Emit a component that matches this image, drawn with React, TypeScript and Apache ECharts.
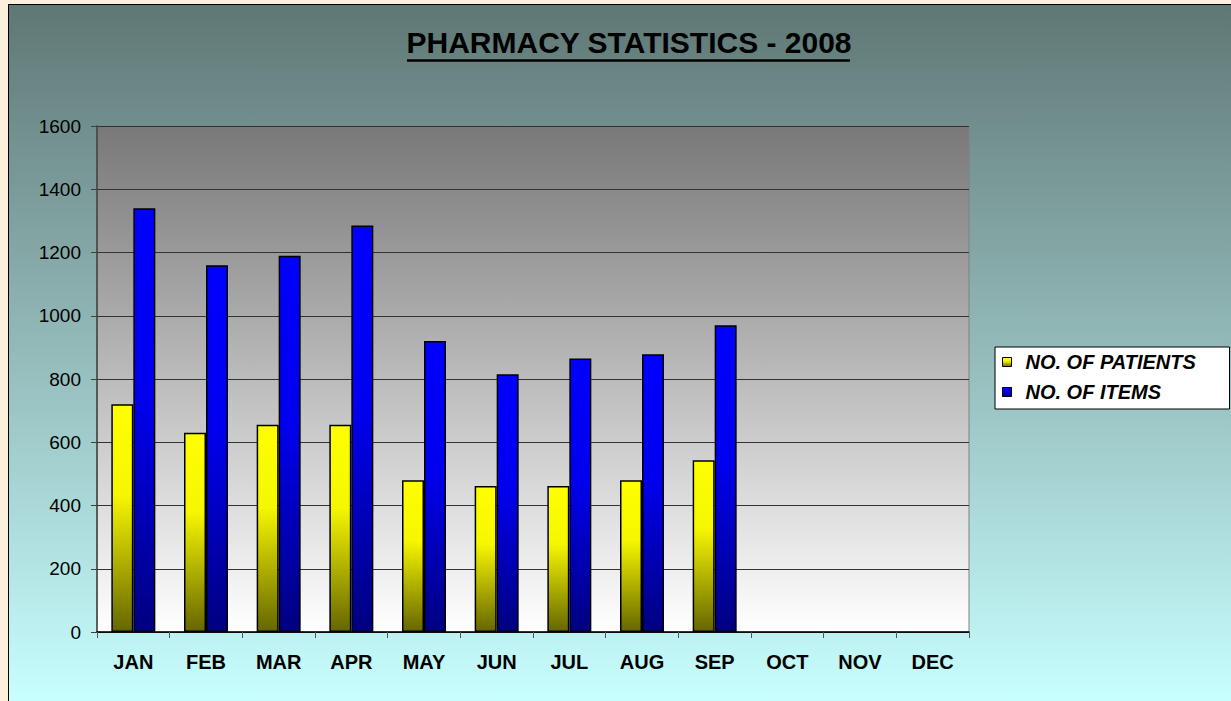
import React, { useEffect, useRef } from "react";
import * as echarts from "echarts";

const months = ["JAN", "FEB", "MAR", "APR", "MAY", "JUN", "JUL", "AUG", "SEP", "OCT", "NOV", "DEC"];
const patients = [720, 630, 655, 655, 480, 462, 462, 480, 543, null, null, null];
const items = [1340, 1160, 1190, 1285, 920, 815, 865, 878, 970, null, null, null];
const seriesNames = ["NO. OF PATIENTS", "NO. OF ITEMS"];
const titleText = "PHARMACY STATISTICS - 2008";

const FONT = "'Liberation Sans', Arial, sans-serif";

export default function App() {
  const ref = useRef<HTMLDivElement>(null);

  useEffect(() => {
    if (!ref.current) return;
    const chart = echarts.init(ref.current, null, { renderer: "svg" });
    const yellow = new echarts.graphic.LinearGradient(0, 0, 0, 1, [
      { offset: 0, color: "#ffff00" },
      { offset: 0.4, color: "#f6f600" },
      { offset: 1, color: "#666600" },
    ]);
    const blue = new echarts.graphic.LinearGradient(0, 0, 0, 1, [
      { offset: 0, color: "#0000ff" },
      { offset: 0.45, color: "#0000ee" },
      { offset: 1, color: "#000080" },
    ]);
    const plotBg = new echarts.graphic.LinearGradient(0, 0, 0, 1, [
      { offset: 0, color: "#787878" },
      { offset: 1, color: "#ffffff" },
    ]);
    chart.setOption({
      animation: false,
      textStyle: { fontFamily: FONT },
      title: {
        text: titleText,
        left: 624,
        top: 22,
        textAlign: "center",
        textStyle: { fontSize: 30, fontWeight: "bold", color: "#000", fontFamily: FONT },
      },
      graphic: [
        {
          type: "line",
          shape: { x1: 407, y1: 60.5, x2: 850, y2: 60.5 },
          style: { stroke: "#000", lineWidth: 2.5 },
        },
      ],
      legend: {
        orient: "vertical",
        left: 995,
        top: 347,
        data: seriesNames,
        backgroundColor: "#ffffff",
        borderColor: "#000",
        borderWidth: 1,
        padding: [4, 4, 6, 7],
        itemGap: 8,
        itemWidth: 9,
        itemHeight: 9,
        icon: "rect",
        itemStyle: { borderColor: "#000", borderWidth: 1 },
        textStyle: {
          fontSize: 20,
          fontWeight: "bold",
          fontStyle: "italic",
          color: "#000",
          fontFamily: FONT,
          lineHeight: 22,
          width: 200,
          padding: [0, 0, 0, 9],
        },
      },
      grid: {
        left: 97,
        top: 126,
        width: 872,
        height: 506,
        show: true,
        backgroundColor: plotBg,
        borderColor: "#808080",
        borderWidth: 1,
      },
      xAxis: {
        type: "category",
        data: months,
        axisLine: { lineStyle: { color: "#000", width: 1.5 } },
        axisTick: { show: true, length: 6, lineStyle: { color: "#555" } },
        axisLabel: { fontSize: 20, fontWeight: "bold", color: "#000", margin: 20, fontFamily: FONT },
      },
      yAxis: {
        type: "value",
        min: 0,
        max: 1600,
        interval: 200,
        axisLine: { show: true, lineStyle: { color: "#404040", width: 1.5 } },
        axisTick: { show: true, length: 6, lineStyle: { color: "#404040" } },
        axisLabel: {
          fontSize: 19,
          color: "#000",
          margin: 16,
          fontFamily: FONT,
          formatter: (v: number) => String(v),
        },
        splitLine: { lineStyle: { color: "#333", width: 1 } },
      },
      series: [
        {
          name: seriesNames[0],
          type: "bar",
          data: patients,
          barWidth: 22,
          barGap: "0%",
          itemStyle: { color: yellow, borderColor: "#000", borderWidth: 1.5 },
        },
        {
          name: seriesNames[1],
          type: "bar",
          data: items,
          barWidth: 22,
          barGap: "0%",
          itemStyle: { color: blue, borderColor: "#000", borderWidth: 1.5 },
        },
      ],
    });
    return () => chart.dispose();
  }, []);

  return (
    <div style={{ position: "fixed", left: 0, top: 0, width: 1231, height: 701, background: "#fcefdb", overflow: "hidden" }}>
      <div
        style={{
          position: "absolute",
          left: 8,
          top: 4,
          width: 1240,
          height: 720,
          border: "1.5px solid #000",
          boxSizing: "border-box",
          background: "linear-gradient(to bottom, #5f7775 0px, #c8ffff 697px)",
        }}
      />
      <div ref={ref} style={{ position: "absolute", left: 0, top: 0, width: 1231, height: 701 }} />
    </div>
  );
}
